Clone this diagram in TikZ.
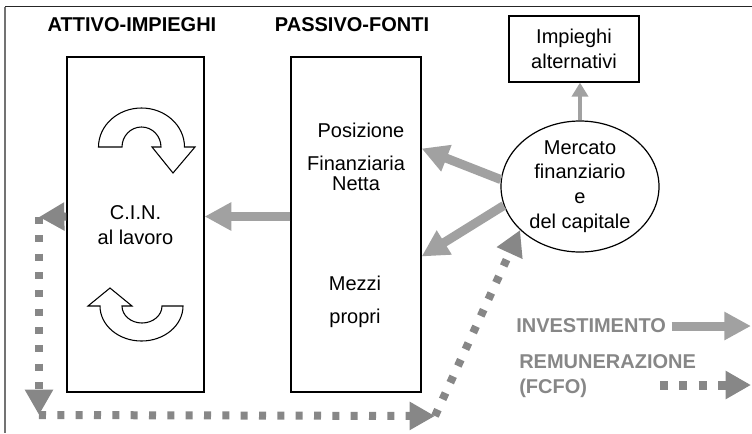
\documentclass[tikz,border=0pt]{standalone}
\usepackage{fontspec}
\setmainfont{Liberation Sans}
\usetikzlibrary{arrows.meta,shapes.geometric}

\begin{document}
\begin{tikzpicture}
		[x=0.75pt,y=-0.75pt,line cap=butt,
		%Styles
		title text/.style={font=\bfseries\fontsize{15}{18}\selectfont,inner sep=0pt},
		body text/.style={font=\fontsize{15}{18.5}\selectfont,align=center,inner sep=0pt},
		legend text/.style={font=\bfseries\fontsize{15}{19}\selectfont,text=legendgray,align=left,inner sep=0pt},
		main box/.style={draw,line width=0.9pt,minimum width=102.75pt,minimum height=251.25pt,inner sep=0pt},
		small box/.style={draw,line width=0.9pt,minimum width=97.5pt,minimum height=49.5pt,inner sep=0pt,align=center,font=\fontsize{15}{18.5}\selectfont},
		market/.style={ellipse,draw,line width=0.9pt,minimum width=118.5pt,minimum height=98.25pt,inner sep=0pt,align=center,font=\fontsize{15}{18.5}\selectfont},
		invest/.style={draw=invgray,line width=6.75pt,-{Triangle[length=20pt,width=20pt]}},
		small invest/.style={draw=invgray,line width=3pt,-{Triangle[length=10.5pt,width=12pt]}},
		remun/.style={draw=remgray,line width=6pt,dash pattern=on 5.25pt off 8.5pt,-{Triangle[length=19pt,width=20pt]}},
		turn/.style={draw,fill=white,line width=0.8pt,line join=miter}
		]

		%Colors
		\colorlet{invgray}{black!37}	%solid arrows
		\colorlet{remgray}{black!47}	%dotted arrows
		\colorlet{legendgray}{black!47}

		\useasboundingbox (0,0) rectangle (752,433);

		%Frame
		\draw[line width=1.2pt,black!85] (5,6.5) -- (752,6.5);
		\draw[line width=1pt,black!55] (5,6.5) -- (5,433);

		%The graphic
		\node[title text] (attivotitle) at (132,25) {ATTIVO-IMPIEGHI};
		\node[title text] (passivotitle) at (352,25) {PASSIVO-FONTI};

		\node[main box] (attivo) at (135.5,224.5) {};
		\node[main box,minimum width=97.5pt] (passivo) at (356,224.5) {};
		\node[small box] (impieghi) at (574,49) {Impieghi\\alternativi};
		\node[market] (mercato) at (580,186.5) {Mercato\\finanziario\\e\\del capitale};

		\node[body text] (cin) at (135.5,225) {C.I.N.\\al lavoro};
		\node[body text] (posizione) at (361,130) {Posizione};
		\node[body text,font=\fontsize{15}{15}\selectfont] (finanziaria) at (356,173) {Finanziaria\\Netta};
		\node[body text] (mezzi) at (355,283) {Mezzi};
		\node[body text] (propri) at (355,318) {propri};

		%Turning arrows
		\draw[turn] (98.5,147) arc[start angle=180,end angle=360,x radius=43,y radius=39]
			-- (195,147) -- (173,173) -- (152,147) -- (161,147)
			arc[start angle=0,end angle=-180,x radius=19.5,y radius=20] -- cycle;
		\draw[turn] (183,306) arc[start angle=0,end angle=180,x radius=41.5,y radius=35]
			-- (88,306) -- (110,288) -- (132,306) -- (122,306)
			arc[start angle=180,end angle=0,x radius=20,y radius=17] -- cycle;

		%Investment flows
		\draw[small invest] (mercato.north) -- (mercato.north |- impieghi.south);
		\draw[invest] (mercato.175) -- ([yshift=57pt]passivo.east);
		\draw[invest] (mercato.194) -- ([yshift=-24pt]passivo.east);
		\draw[invest] ([yshift=6pt]passivo.west) -- ([yshift=6pt]attivo.east);

		%Remuneration flow
		\coordinate (c1) at (39,217);
		\coordinate (c2) at (39,415);
		\coordinate (c3) at (435,416);
		\draw[remun] ([yshift=6pt]attivo.west) -- (c1);
		\draw[remun] (c1) -- (c2);
		\draw[remun] (c2) -- (c3);
		\draw[remun] (c3) -- (mercato.216);

		%Legend
		\node[legend text,anchor=west] (leginv) at (516,326) {INVESTIMENTO};
		\coordinate (invend) at (751,326);
		\draw[invest] ([xshift=4pt]leginv.east) -- (invend);
		\node[legend text,anchor=west] (legrem) at (519,376) {REMUNERAZIONE\\(FCFO)};
		\coordinate (remstart) at (660,385);
		\coordinate (remend) at (751,385);
		\draw[remun,line width=6.75pt,dash pattern=on 6pt off 8.5pt] (remstart) -- (remend);
	\end{tikzpicture}
\end{document}
